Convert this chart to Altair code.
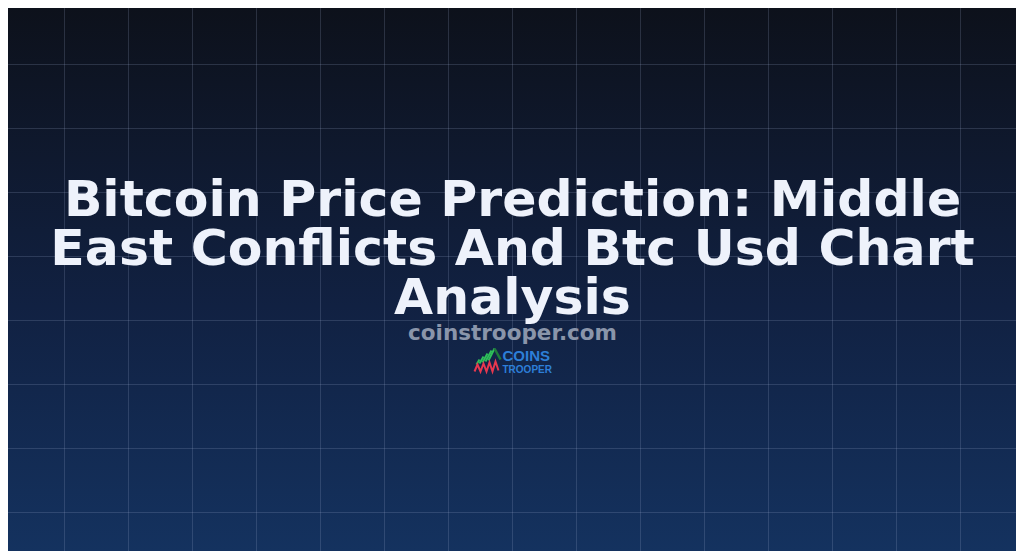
import altair as alt
import pandas as pd

# ---- content -------------------------------------------------------------
TITLE_LINES = [
    "Bitcoin Price Prediction: Middle",
    "East Conflicts And Btc Usd Chart",
    "Analysis",
]
TITLE_BASELINES = [215, 264, 313]
SUBTITLE = ["coinstrooper.com"]
SUBTITLE_BASELINE = [339]
LOGO_WORDS = ["COINS", "TROOPER"]
LOGO_WORD_BASELINES = [360, 372]

GRID_X = [64, 128, 192, 256, 320, 384, 448, 512, 576, 640, 704, 768, 832, 896, 960]
GRID_Y = [64, 128, 192, 256, 320, 384, 448, 512]

# logo icon strokes (start x, start y, end x, end y)
GREEN_X1 = [476, 479, 482, 485, 488]
GREEN_Y1 = [364, 363, 362, 361, 360]
GREEN_X2 = [479, 483, 487, 491, 494]
GREEN_Y2 = [359, 356, 353, 350, 348]
DKGREEN_X1 = [494]
DKGREEN_Y1 = [348]
DKGREEN_X2 = [500]
DKGREEN_Y2 = [359]
RED_X = [474, 477, 480, 483, 486, 489, 492, 495, 498]
RED_Y = [371, 364, 371, 363, 371, 362, 371, 361, 370]

# visible page area (browser body margin of 8px), half-pixel aligned
CANVAS_X = [7.5, 1015.5]
CANVAS_Y = [7.5, 550.5]

W = CANVAS_X[1] - CANVAS_X[0]
H = CANVAS_Y[1] - CANVAS_Y[0]

xs = alt.Scale(domain=CANVAS_X, nice=False, zero=False)
ys = alt.Scale(domain=CANVAS_Y, nice=False, zero=False, reverse=True)


def X(f):
    return alt.X(f, type="quantitative", scale=xs, axis=None)


def Y(f):
    return alt.Y(f, type="quantitative", scale=ys, axis=None)


bg_df = pd.DataFrame({"x0": [CANVAS_X[0]], "x1": [CANVAS_X[1]],
                      "y0": [CANVAS_Y[0]], "y1": [CANVAS_Y[1]]})
bg = alt.Chart(bg_df).mark_rect(
    fill=alt.Gradient(
        gradient="linear",
        stops=[alt.GradientStop(color="#0d111b", offset=0),
               alt.GradientStop(color="#112142", offset=0.55),
               alt.GradientStop(color="#14325f", offset=1)],
        x1=0, x2=0, y1=0, y2=1,
    )
).encode(x=X("x0"), x2="x1", y=Y("y0"), y2="y1")

vgrid = alt.Chart(pd.DataFrame({"gx": GRID_X, "ya": CANVAS_Y[0], "yb": CANVAS_Y[1]})).mark_rule(
    color="#9fb0d0", opacity=0.2, strokeWidth=1
).encode(x=X("gx"), y=Y("ya"), y2="yb")

hgrid = alt.Chart(pd.DataFrame({"gy": GRID_Y, "xa": CANVAS_X[0], "xb": CANVAS_X[1]})).mark_rule(
    color="#9fb0d0", opacity=0.2, strokeWidth=1
).encode(y=Y("gy"), x=X("xa"), x2="xb")

title_df = pd.DataFrame({"t": TITLE_LINES, "y": TITLE_BASELINES, "x": 512})
title = alt.Chart(title_df).mark_text(
    font="DejaVu Sans", fontWeight="bold", fontSize=50.5,
    align="center", baseline="alphabetic", color="#eef2fb"
).encode(x=X("x"), y=Y("y"), text="t:N")

sub_df = pd.DataFrame({"t": SUBTITLE, "y": SUBTITLE_BASELINE, "x": 512})
subtitle = alt.Chart(sub_df).mark_text(
    font="DejaVu Sans", fontWeight="bold", fontSize=21.5, color="#8a95aa",
    align="center", baseline="alphabetic"
).encode(x=X("x"), y=Y("y"), text="t:N")

logo_df = pd.DataFrame({"t": LOGO_WORDS, "y": LOGO_WORD_BASELINES, "x": 502,
                        "s": [15, 10]})
logo_text = alt.Chart(logo_df).mark_text(
    font="Liberation Sans", fontWeight="bold", color="#2d7fd8",
    align="left", baseline="alphabetic"
).encode(x=X("x"), y=Y("y"), text="t:N",
         size=alt.Size("s:Q", scale=None, legend=None))

green = alt.Chart(pd.DataFrame({"a": GREEN_X1, "b": GREEN_Y1, "c": GREEN_X2, "d": GREEN_Y2})).mark_rule(
    color="#2fbf5a", strokeWidth=2
).encode(x=X("a"), y=Y("b"), x2="c", y2="d")
dkgreen = alt.Chart(pd.DataFrame({"a": DKGREEN_X1, "b": DKGREEN_Y1, "c": DKGREEN_X2, "d": DKGREEN_Y2})).mark_rule(
    color="#1f7a3a", strokeWidth=2.5
).encode(x=X("a"), y=Y("b"), x2="c", y2="d")
red = alt.Chart(pd.DataFrame({"rx": RED_X, "ry": RED_Y, "o": list(range(len(RED_X)))})).mark_line(
    color="#e8384f", strokeWidth=2
).encode(x=X("rx"), y=Y("ry"), order="o:Q")

chart = alt.layer(
    bg, vgrid, hgrid, title, subtitle, green, dkgreen, red, logo_text
).properties(
    width=W, height=H, padding=0,
    autosize=alt.AutoSizeParams(type="none"),
).configure_view(stroke=None).configure(background="#0d111b")

chart.save("out.html", embed_options={"renderer": "svg", "actions": False})
